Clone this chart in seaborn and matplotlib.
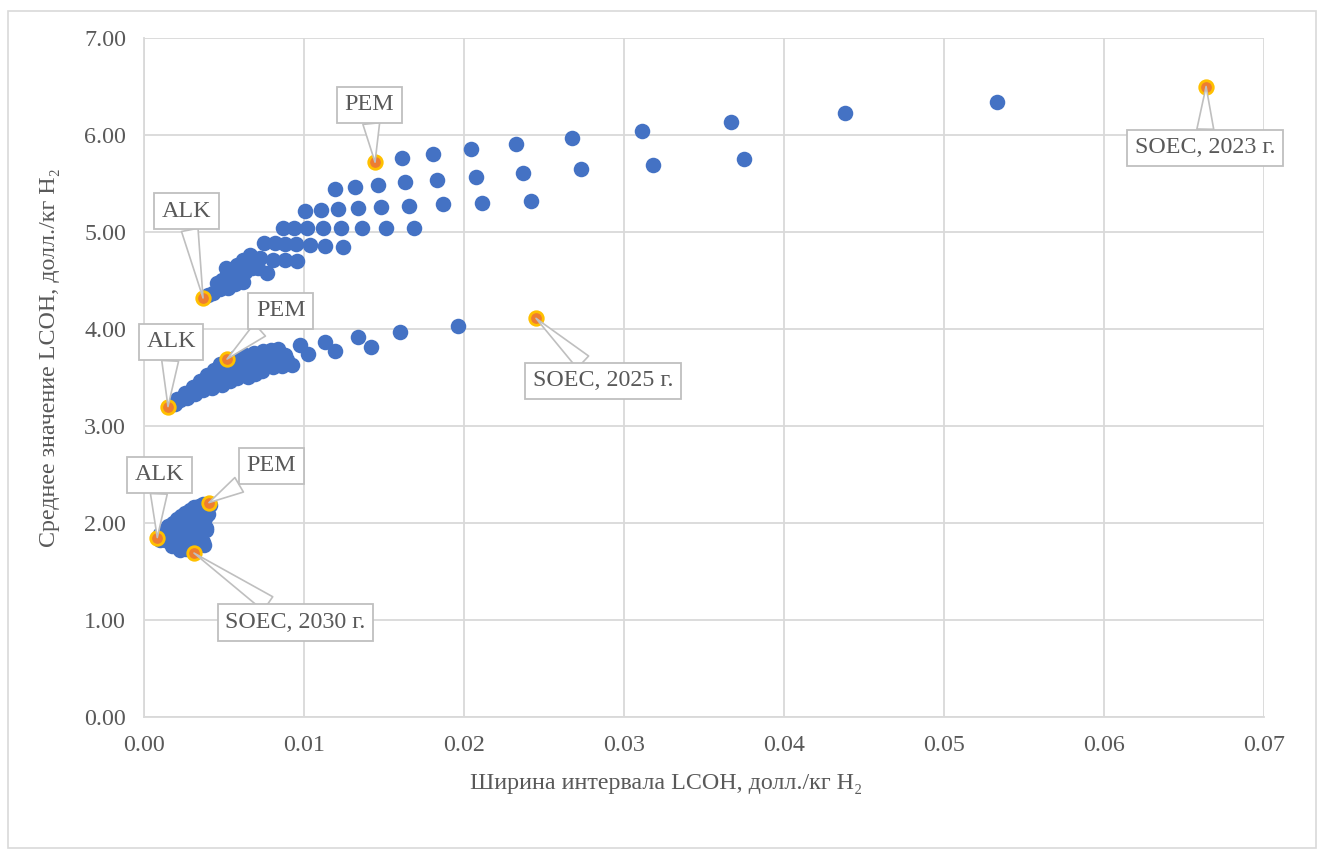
import matplotlib
matplotlib.use("Agg")
import matplotlib.pyplot as plt
import pandas as pd
import seaborn as sns
from matplotlib.patches import Rectangle
from matplotlib.ticker import FormatStrFormatter, MultipleLocator

# LCOH scenario results: width of the LCOH interval (x) vs mean LCOH (y), USD/kg H2
width_2023 = [0.01613, 0.01806, 0.02044, 0.02325, 0.02675, 0.03113, 0.03669, 0.04381, 0.05331,
              0.01194, 0.01319, 0.01463, 0.01631, 0.01831, 0.02075, 0.02369, 0.02731, 0.03181, 0.03750,
              0.01006, 0.01106, 0.01213, 0.01338, 0.01481, 0.01656, 0.01869, 0.02113, 0.02419,
              0.00869, 0.00938, 0.01019, 0.01119, 0.01231, 0.01363, 0.01513, 0.01688,
              0.00750, 0.00819, 0.00881, 0.00950, 0.01038, 0.01131, 0.01244,
              0.00663, 0.00725, 0.00806, 0.00881, 0.00956,
              0.00581, 0.00675, 0.00769, 0.00513,
              0.00519, 0.00619, 0.00456, 0.00525, 0.00431,
              0.00400, 0.00475, 0.00569, 0.00550, 0.00488, 0.00631, 0.00713, 0.00619]
mean_2023 = [5.763, 5.804, 5.856, 5.907, 5.969, 6.041, 6.134, 6.227, 6.340,
             5.443, 5.464, 5.485, 5.515, 5.536, 5.567, 5.608, 5.649, 5.691, 5.753,
             5.216, 5.227, 5.237, 5.247, 5.258, 5.268, 5.289, 5.299, 5.320,
             5.041, 5.041, 5.041, 5.041, 5.041, 5.041, 5.041, 5.041,
             4.887, 4.887, 4.876, 4.876, 4.866, 4.856, 4.845,
             4.763, 4.732, 4.711, 4.711, 4.701,
             4.660, 4.629, 4.577, 4.629,
             4.557, 4.485, 4.474, 4.423, 4.371,
             4.351, 4.412, 4.464, 4.526, 4.505, 4.588, 4.629, 4.711]

width_2025 = [0.01963, 0.01600, 0.01338, 0.01419, 0.01131, 0.01194, 0.00975, 0.01025, 0.00838, 0.00925,
              0.00894, 0.00806,
              0.00256, 0.00350, 0.00438, 0.00631, 0.00744,
              0.00269, 0.00369, 0.00488, 0.00581, 0.00650, 0.00738,
              0.00194, 0.00225, 0.00319, 0.00413, 0.00506, 0.00600, 0.00694, 0.00775, 0.00881,
              0.00206, 0.00306, 0.00394, 0.00475, 0.00575, 0.00688, 0.00794,
              0.00194, 0.00319, 0.00425, 0.00538, 0.00694, 0.00863,
              0.00463, 0.00550, 0.00644, 0.00738, 0.00825]
mean_2025 = [4.031, 3.969, 3.918, 3.814, 3.866, 3.773, 3.835, 3.742, 3.794, 3.629,
             3.680, 3.608,
             3.340, 3.464, 3.577, 3.732, 3.773,
             3.289, 3.371, 3.423, 3.495, 3.505, 3.567,
             3.247, 3.268, 3.371, 3.474, 3.557, 3.619, 3.660, 3.701, 3.732,
             3.278, 3.402, 3.526, 3.639, 3.711, 3.753, 3.784,
             3.227, 3.330, 3.392, 3.464, 3.536, 3.619,
             3.495, 3.577, 3.619, 3.660, 3.680]

width_2030 = [0.00131, 0.00181, 0.00231, 0.00288, 0.00344,
              0.00163, 0.00225, 0.00288, 0.00350, 0.00394,
              0.00131, 0.00200, 0.00269, 0.00331, 0.00381,
              0.00175, 0.00244, 0.00306, 0.00363,
              0.00225, 0.00288, 0.00344, 0.00388, 0.00369,
              0.00100, 0.00150, 0.00206, 0.00256, 0.00313, 0.00369,
              0.00194, 0.00256, 0.00319, 0.00375, 0.00413,
              0.00100, 0.00163, 0.00231, 0.00300, 0.00363, 0.00400,
              0.00213, 0.00275, 0.00338, 0.00388,
              0.00263, 0.00319, 0.00375]
mean_2030 = [1.928, 2.000, 2.072, 2.134, 2.175,
             1.866, 1.948, 2.031, 2.103, 2.155,
             1.825, 1.845, 1.907, 1.979, 2.052,
             1.763, 1.784, 1.825, 1.928,
             1.722, 1.742, 1.804, 1.948, 1.804,
             1.887, 1.969, 2.041, 2.103, 2.165, 2.196,
             1.928, 1.990, 2.062, 2.113, 2.186,
             1.825, 1.814, 1.897, 1.959, 2.021, 2.093,
             1.784, 1.835, 1.876, 1.928,
             1.732, 1.753, 1.773]

# Technology reference points for each year
tech_labels = ["ALK", "PEM", "SOEC, 2023 г.",
               "ALK", "PEM", "SOEC, 2025 г.",
               "ALK", "PEM", "SOEC, 2030 г."]
tech_width = [0.00369, 0.01444, 0.06638, 0.00150, 0.00519, 0.02450, 0.00083, 0.00406, 0.003125]
tech_mean = [4.32, 5.72, 6.50, 3.20, 3.69, 4.11, 1.85, 2.21, 1.69]

# Callout box centres (data coordinates)
callout_xy = [(0.00263, 5.216), (0.01409, 6.312), (0.06631, 5.866),
              (0.00169, 3.866), (0.00856, 4.186), (0.02869, 3.464),
              (0.00097, 2.495), (0.00794, 2.588), (0.00947, 0.974)]

scenarios = pd.DataFrame({
    "width": width_2023 + width_2025 + width_2030,
    "mean": mean_2023 + mean_2025 + mean_2030,
})
techs = pd.DataFrame({"width": tech_width, "mean": tech_mean, "label": tech_labels})

sns.set_theme(style="white")
serif = ["Liberation Serif", "DejaVu Serif"]
plt.rcParams["font.family"] = serif
grey_text = "#595959"
grid_col = "#D9D9D9"
fs = 17.3

fig = plt.figure(figsize=(13.21, 8.55), dpi=100)
fig.patches.append(Rectangle((8 / 1321, 1 - 848 / 855), 1308 / 1321, 837 / 855,
                             transform=fig.transFigure, fill=False,
                             edgecolor=grid_col, linewidth=1.2, zorder=0))
ax = fig.add_axes([144 / 1321, 1 - 717 / 855, 1120 / 1321, 679 / 855])

sns.scatterplot(data=scenarios, x="width", y="mean", ax=ax, s=125,
                color="#4472C4", linewidth=0, zorder=3, legend=False)
sns.scatterplot(data=techs, x="width", y="mean", ax=ax, s=95,
                color="#ED7D31", edgecolor="#FFC000", linewidth=2.0, zorder=4, legend=False)

for (lbl, x, y, (tx, ty)) in zip(tech_labels, tech_width, tech_mean, callout_xy):
    ax.annotate(lbl, xy=(x, y), xytext=(tx, ty), textcoords="data",
                ha="center", va="center", fontsize=fs, color=grey_text, family=serif,
                bbox=dict(boxstyle="square,pad=0.32", fc="white", ec="#BFBFBF", lw=1.3),
                arrowprops=dict(arrowstyle="wedge,tail_width=0.7,shrink_factor=0.5",
                                fc="white", ec="#BFBFBF", lw=1.2, shrinkA=0, shrinkB=0),
                zorder=6)

ax.set_xlim(0, 0.07)
ax.set_ylim(0, 7)
ax.xaxis.set_major_locator(MultipleLocator(0.01))
ax.yaxis.set_major_locator(MultipleLocator(1))
ax.xaxis.set_major_formatter(FormatStrFormatter("%.2f"))
ax.yaxis.set_major_formatter(FormatStrFormatter("%.2f"))
ax.grid(True, color=grid_col, linewidth=1.3)
ax.set_axisbelow(True)
for side in ["top", "right"]:
    ax.spines[side].set_visible(False)
for side in ["left", "bottom"]:
    ax.spines[side].set_color(grid_col)
    ax.spines[side].set_linewidth(1.3)
ax.tick_params(axis="both", length=0, labelsize=fs, labelcolor=grey_text, pad=13)
for lab in ax.get_xticklabels() + ax.get_yticklabels():
    lab.set_family(serif)

ax.set_xlabel("Ширина интервала LCOH, долл./кг H₂", fontsize=fs, color=grey_text, family=serif)
ax.set_ylabel("Среднее значение LCOH, долл./кг H₂", fontsize=fs, color=grey_text, family=serif)
ax.xaxis.set_label_coords(0.466, -0.083)
ax.yaxis.set_label_coords(-0.075, 0.53)

fig.savefig("out.png", dpi=100, facecolor="white")
